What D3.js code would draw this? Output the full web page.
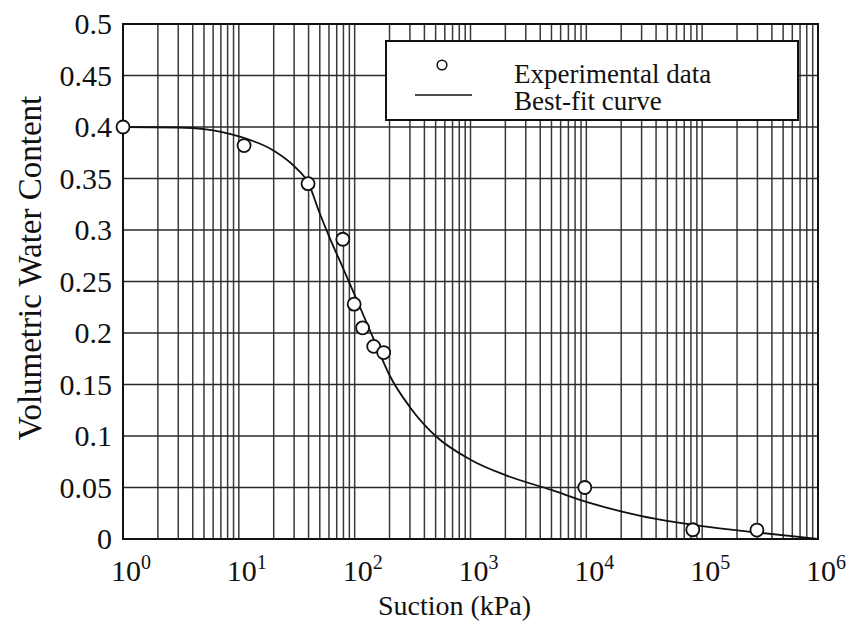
<!DOCTYPE html>
<html>
<head>
<meta charset="utf-8">
<script src="https://cdn.jsdelivr.net/npm/d3@7"></script>
<style>
  body { margin: 0; background: #fff; }
  text { font-family: "Liberation Serif", "Times New Roman", serif; fill: #111; }
</style>
</head>
<body>
<div id="chart"></div>
<script>
// measured points (suction kPa, volumetric water content)
var dataSuction = [1, 11.1, 39.6, 79, 99, 117, 146, 178, 9700, 83000, 297000];
var dataTheta   = [0.400, 0.382, 0.345, 0.291, 0.228, 0.205, 0.187, 0.181, 0.050, 0.009, 0.0087];

// best-fit curve
var fitSuction = [1, 3, 5, 10, 20, 30, 40, 50, 60, 80, 100, 150, 200, 300, 500, 1000, 2000, 5000, 10000, 30000, 100000, 300000, 1000000];
var fitTheta   = [0.400, 0.3995, 0.398, 0.391, 0.377, 0.362, 0.345, 0.316, 0.294, 0.262, 0.237, 0.191, 0.159, 0.128, 0.100, 0.077, 0.062, 0.0476, 0.036, 0.0223, 0.0126, 0.0063, 0];

var yTicks = [0, 0.05, 0.1, 0.15, 0.2, 0.25, 0.3, 0.35, 0.4, 0.45, 0.5];
var yTickLabels = ["0", "0.05", "0.1", "0.15", "0.2", "0.25", "0.3", "0.35", "0.4", "0.45", "0.5"];
var xDecades = [0, 1, 2, 3, 4, 5, 6];

var legendLabels = ["Experimental data", "Best-fit curve"];

// set the dimensions and margins of the graph
var margin = {top: 24, right: 33, bottom: 90, left: 123},
    width = 851 - margin.left - margin.right,
    height = 629 - margin.top - margin.bottom;

var x = d3.scaleLog().domain([1, 1e6]).range([0, width]);
var y = d3.scaleLinear().domain([0, 0.5]).range([height, 0]);

var svg = d3.select("#chart").append("svg")
    .attr("width", 851)
    .attr("height", 629)
  .append("g")
    .attr("transform", "translate(" + margin.left + "," + margin.top + ")");

// gridlines: every 1..9 of each decade
var xGrid = [];
xDecades.slice(0, -1).forEach(function(e) {
  for (var k = 1; k <= 9; k++) xGrid.push(k * Math.pow(10, e));
});
xGrid.push(1e6);

svg.append("g")
    .attr("class", "grid")
    .selectAll("line")
    .data(xGrid)
  .enter().append("line")
    .attr("x1", function(d) { return x(d); })
    .attr("x2", function(d) { return x(d); })
    .attr("y1", 0)
    .attr("y2", height)
    .style("stroke", "#3a3a3a")
    .style("stroke-width", 1.5);

svg.append("g")
    .attr("class", "grid")
    .selectAll("line")
    .data(yTicks)
  .enter().append("line")
    .attr("x1", 0)
    .attr("x2", width)
    .attr("y1", function(d) { return y(d); })
    .attr("y2", function(d) { return y(d); })
    .style("stroke", "#2a2a2a")
    .style("stroke-width", 1.6);

// frame
svg.append("rect")
    .attr("width", width)
    .attr("height", height)
    .style("fill", "none")
    .style("stroke", "#111")
    .style("stroke-width", 2);

// y tick labels
svg.append("g")
    .selectAll("text")
    .data(yTicks)
  .enter().append("text")
    .attr("x", -11)
    .attr("y", function(d) { return y(d); })
    .attr("dy", "0.34em")
    .attr("text-anchor", "end")
    .style("font-size", "30px")
    .text(function(d, i) { return yTickLabels[i]; });

// x tick labels 10^n
var xl = svg.append("g")
    .selectAll("text")
    .data(xDecades)
  .enter().append("text")
    .attr("x", function(d) { return x(Math.pow(10, d)) + 8; })
    .attr("y", height + 42)
    .attr("text-anchor", "middle")
    .style("font-size", "30px");
xl.append("tspan").text("10");
xl.append("tspan")
    .attr("dy", -12)
    .style("font-size", "20px")
    .text(function(d) { return d; });

// axis titles
svg.append("text")
    .attr("x", width / 2 - 16)
    .attr("y", height + 76)
    .attr("text-anchor", "middle")
    .style("font-size", "28px")
    .text("Suction (kPa)");

svg.append("text")
    .attr("transform", "rotate(-90)")
    .attr("x", -(268 - margin.top))
    .attr("y", -margin.left + 41)
    .attr("text-anchor", "middle")
    .style("font-size", "33px")
    .text("Volumetric Water Content");

// best-fit curve
var fit = fitSuction.map(function(s, i) { return {s: s, t: fitTheta[i]}; });
var line = d3.line()
    .curve(d3.curveMonotoneX)
    .x(function(d) { return x(d.s); })
    .y(function(d) { return y(d.t); });

svg.append("path")
    .datum(fit)
    .attr("d", line)
    .style("fill", "none")
    .style("stroke", "#111")
    .style("stroke-width", 1.8);

// experimental points
var pts = dataSuction.map(function(s, i) { return {s: s, t: dataTheta[i]}; });
svg.append("g")
    .selectAll("circle")
    .data(pts)
  .enter().append("circle")
    .attr("cx", function(d) { return x(d.s); })
    .attr("cy", function(d) { return y(d.t); })
    .attr("r", 6.5)
    .style("fill", "#fff")
    .style("stroke", "#111")
    .style("stroke-width", 1.8);

// legend
var legend = svg.append("g")
    .attr("transform", "translate(" + (386 - margin.left) + "," + (41 - margin.top) + ")");

legend.append("rect")
    .attr("width", 412)
    .attr("height", 79)
    .style("fill", "#fff")
    .style("stroke", "#111")
    .style("stroke-width", 2);

legend.append("circle")
    .attr("cx", 56)
    .attr("cy", 24)
    .attr("r", 4.8)
    .style("fill", "#fff")
    .style("stroke", "#111")
    .style("stroke-width", 1.6);

legend.append("line")
    .attr("x1", 29)
    .attr("x2", 86)
    .attr("y1", 54)
    .attr("y2", 54)
    .style("stroke", "#111")
    .style("stroke-width", 1.6);

legend.selectAll(".legtext")
    .data(legendLabels)
  .enter().append("text")
    .attr("class", "legtext")
    .attr("x", 128)
    .attr("y", function(d, i) { return 42 + i * 27; })
    .style("font-size", "27px")
    .text(function(d) { return d; });
</script>
</body>
</html>
